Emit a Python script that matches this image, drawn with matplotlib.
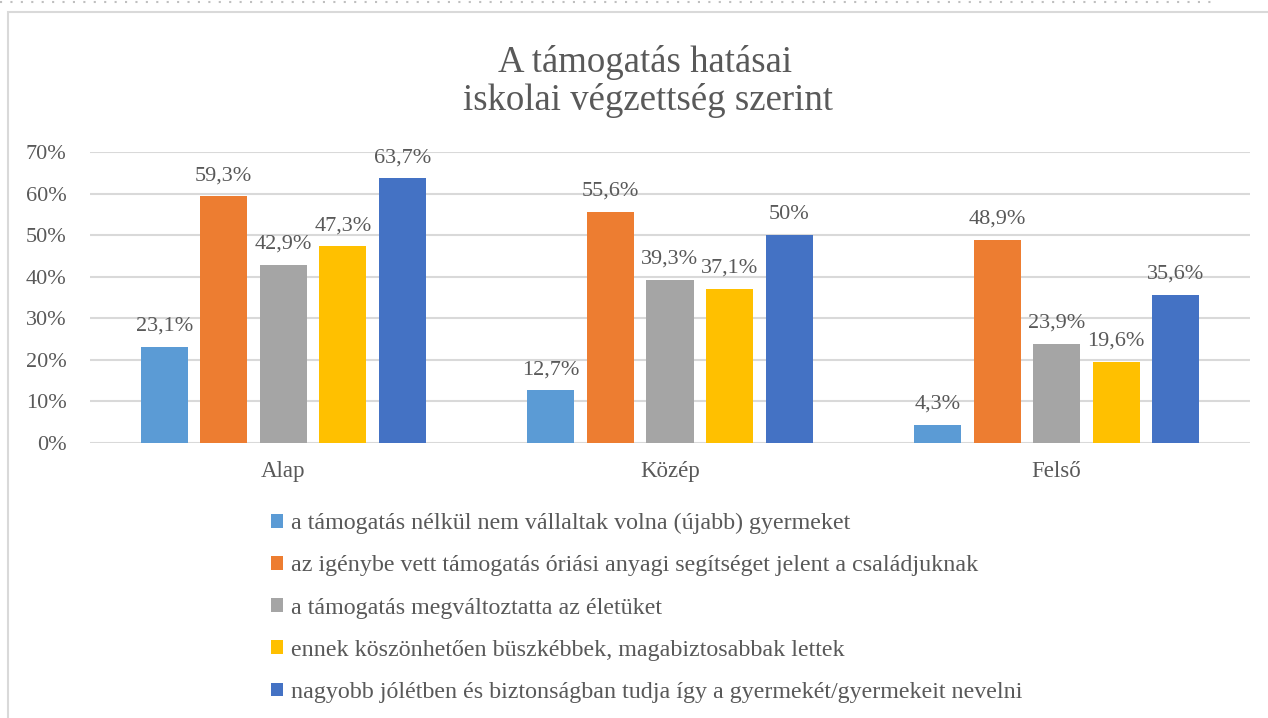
import numpy as np
import matplotlib
matplotlib.use("Agg")
from matplotlib import pyplot as plt
from matplotlib.patches import Patch, Rectangle
from matplotlib.lines import Line2D

plt.rcParams['font.family'] = ['Liberation Serif', 'DejaVu Serif']

categories = ['Alap', 'Közép', 'Felső']
series_names = [
    'a támogatás nélkül nem vállaltak volna (újabb) gyermeket',
    'az igénybe vett támogatás óriási anyagi segítséget jelent a családjuknak',
    'a támogatás megváltoztatta az életüket',
    'ennek köszönhetően büszkébbek, magabiztosabbak lettek',
    'nagyobb jólétben és biztonságban tudja így a gyermekét/gyermekeit nevelni',
]
values = [
    [23.1, 12.7, 4.3],
    [59.3, 55.6, 48.9],
    [42.9, 39.3, 23.9],
    [47.3, 37.1, 19.6],
    [63.7, 50.0, 35.6],
]
colors = ['#5B9BD5', '#ED7D31', '#A5A5A5', '#FFC000', '#4472C4']
yticks = [0, 10, 20, 30, 40, 50, 60, 70]

text_color = '#595959'
grid_color = '#D9D9D9'

fig = plt.figure(figsize=(12.68, 7.18), dpi=100)
ax = fig.add_axes([90 / 1268, 1 - 443 / 718, 1160 / 1268, 291 / 718])

x = np.arange(len(categories))
step = 0.154
width = 0.122


def fmt(v):
    if v == int(v):
        return '%d%%' % v
    return ('%.1f%%' % v).replace('.', ',')


for i, (vals, col) in enumerate(zip(values, colors)):
    pos = x + (i - 2) * step
    ax.bar(pos, vals, width=width, color=col, zorder=3)
    for p, v in zip(pos, vals):
        ax.annotate(fmt(v), (p, v), xytext=(0, 8), textcoords='offset points',
                    ha='center', va='bottom', fontsize=16, color=text_color)

ax.set_xlim(-0.5, 2.5)
ax.set_ylim(0, 70)
ax.set_yticks(yticks)
ax.set_yticklabels(['%d%%' % t for t in yticks])
ax.set_xticks(x)
ax.set_xticklabels(categories)
ax.tick_params(axis='both', length=0, labelsize=16, labelcolor=text_color)
ax.tick_params(axis='x', labelsize=16.5, pad=13)
ax.tick_params(axis='y', pad=17)
ax.grid(axis='y', color=grid_color, linewidth=1.5, zorder=0)
for s in ax.spines.values():
    s.set_visible(False)

fig.text(645 / 1268, 1 - 62 / 718, 'A támogatás hatásai', ha='center', va='center',
         fontsize=26.5, color=text_color)
fig.text(648 / 1268, 1 - 100 / 718, 'iskolai végzettség szerint', ha='center', va='center',
         fontsize=26.5, color=text_color)

handles = [Patch(facecolor=c, edgecolor='none') for c in colors]
fig.legend(handles, series_names, loc='center left',
           bbox_to_anchor=(271 / 1268, 1 - 608 / 718), frameon=False,
           fontsize=17.3, labelcolor=text_color, handlelength=0.5, handleheight=0.5,
           handletextpad=0.35, labelspacing=0.88, borderpad=0, borderaxespad=0)

# chart area border and the dotted line above it
fig.patches.append(Rectangle((8 / 1268, -0.1), 1.2, 1.1 - 12 / 718, transform=fig.transFigure,
                             fill=False, edgecolor=grid_color, linewidth=1.5))
fig.lines.append(Line2D([0, 1215 / 1268], [1 - 1.5 / 718] * 2, transform=fig.transFigure,
                        color='#BFBFBF', linewidth=1.5, linestyle=(0, (1, 4))))

fig.savefig('out.png', dpi=100)
